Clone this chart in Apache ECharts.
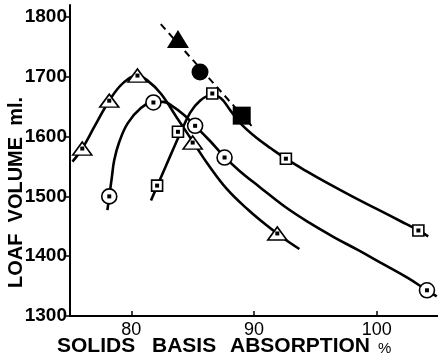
<!DOCTYPE html>
<html><head><meta charset="utf-8">
<script src="https://cdn.jsdelivr.net/npm/echarts@6/dist/echarts.min.js"></script>
<style>html,body{margin:0;padding:0;background:#fff}#c{width:438px;height:359px}</style>
</head><body><div id="c"></div>
<script>
// ---- data ----
const xTicks = [80, 90, 100];
const yTicks = [1300, 1400, 1500, 1600, 1700, 1800];
// open triangles
const triPoints = [[76.0,1580],[78.2,1660],[80.5,1702],[85.0,1590],[91.9,1438]];
const triCurve  = [[75.2,1558],[76.0,1580],[77.0,1617],[78.2,1660],[79.3,1689],[80.5,1702],[81.3,1694],[82.4,1672],[83.7,1632],[85.0,1592],[86.2,1555],[87.8,1512],[89.5,1478],[91.0,1452],[92.4,1430],[93.7,1412]];
// open circles
const cirPoints = [[78.2,1500],[81.8,1657],[85.2,1618],[87.6,1565],[104.1,1343]];
const cirCurve  = [[78.05,1477],[78.2,1500],[78.4,1530],[78.6,1560],[79.0,1590],[79.7,1622],[80.8,1648],[81.8,1658],[82.6,1658],[83.4,1650],[84.3,1636],[85.2,1618],[86.4,1593],[87.6,1566],[88.8,1543],[90.5,1515],[92.5,1483],[94.5,1456],[96.5,1432],[98.5,1410],[100.5,1387],[102.5,1364],[104.1,1343],[104.9,1333]];
// open squares
const sqPoints = [[82.1,1518],[83.8,1608],[86.6,1672],[92.6,1563],[103.4,1443]];
const sqCurve  = [[81.6,1493],[82.4,1531],[83.2,1569],[84.0,1606],[84.8,1640],[85.6,1660],[86.5,1669],[87.3,1664],[88.1,1643],[89.0,1620],[90.2,1598],[91.4,1580],[92.6,1563],[94.2,1543],[96.0,1522],[98.0,1500],[100.0,1479],[102.0,1458],[103.4,1443],[104.2,1433]];
// filled markers on dashed line
const filledTri = [[83.8,1763]];
const filledCir = [[85.6,1708]];
const filledSq  = [[89.0,1635]];
const dashLine  = [[82.4,1788],[89.8,1618]];

const chart = echarts.init(document.getElementById('c'), null, {renderer:'canvas'});
const black = '#000';
const curve = (d) => ({type:'line', data:d, smooth:0.4, showSymbol:false, symbol:'none',
  lineStyle:{color:black, width:2.6}, z:2, silent:true});
const openMk = (d, sym, size) => ({type:'scatter', data:d, symbol:sym, symbolSize:size,
  itemStyle:{color:'#fff', borderColor:black, borderWidth:1.6, opacity:1}, z:3, silent:true});
const dots = (d) => ({type:'scatter', data:d, symbol:'rect', symbolSize:4, itemStyle:{color:black, opacity:1}, z:4, silent:true});
const fillMk = (d, sym, size) => ({type:'scatter', data:d, symbol:sym, symbolSize:size, itemStyle:{color:black, opacity:1}, z:5, silent:true});
const boldFont = (s) => 'bold ' + s + 'px "Liberation Sans", Arial, sans-serif';

chart.setOption({
  animation:false,
  backgroundColor:'#fff',
  grid:{left:70, right:0, top:5, bottom:43, containLabel:false},
  xAxis:{type:'value', min:75, max:105,
    axisLine:{lineStyle:{color:black, width:2}},
    axisTick:{show:true, inside:true, length:5, customValues:xTicks, lineStyle:{color:black, width:1.5}},
    axisLabel:{customValues:xTicks, color:black, fontFamily:'Liberation Sans, Arial, sans-serif', fontSize:18, margin:5},
    splitLine:{show:false}},
  yAxis:{type:'value', min:1300, max:1820,
    axisLine:{show:true, lineStyle:{color:black, width:2}},
    axisTick:{show:true, inside:false, length:4, customValues:yTicks, lineStyle:{color:black, width:1.5}},
    axisLabel:{customValues:yTicks, formatter:(v)=>String(v), color:black, fontFamily:'Liberation Sans, Arial, sans-serif', fontWeight:'bold', fontSize:19, margin:3},
    splitLine:{show:false}},
  graphic:[
    {type:'text', left:57, top:336, style:{text:'SOLIDS', fill:black, font:boldFont(21)}},
    {type:'text', left:152, top:336, style:{text:'BASIS', fill:black, font:boldFont(21)}},
    {type:'text', left:230, top:336, style:{text:'ABSORPTION', fill:black, font:boldFont(21)}},
    {type:'text', left:378, top:341, style:{text:'%', fill:black, font:'15px "Liberation Sans", Arial, sans-serif'}},
    {type:'text', x:6, y:288, rotation:Math.PI/2, style:{text:'LOAF  VOLUME  ml.', fill:black,
      font:boldFont(20), textVerticalAlign:'top'}}
  ],
  series:[
    curve(triCurve), curve(cirCurve), curve(sqCurve),
    {type:'line', data:dashLine, showSymbol:false, symbol:'none', lineStyle:{color:black, width:2, type:[7,5]}, z:2, silent:true},
    openMk(triPoints, 'triangle', [19,13]),
    openMk(cirPoints, 'circle', 15),
    openMk(sqPoints, 'rect', 11),
    dots(triPoints), dots(cirPoints), dots(sqPoints),
    fillMk(filledTri, 'triangle', [22,18]),
    fillMk(filledCir, 'circle', 17),
    fillMk(filledSq, 'rect', 18)
  ]
});
</script></body></html>
